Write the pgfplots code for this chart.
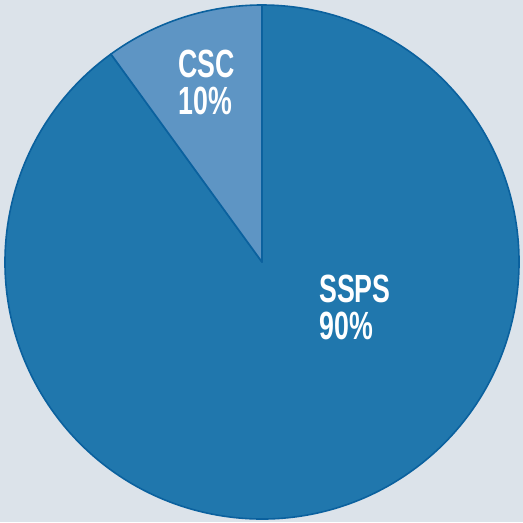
\documentclass[border=0pt]{standalone}
\usepackage{pgfplots}
\usepackage{pgfplotstable}
\usepackage{fontspec}
\pgfplotsset{compat=1.18}
\setmainfont{Liberation Sans}
\newfontfamily\labelfont[FakeStretch=0.68]{Liberation Sans}
\definecolor{bgcol}{HTML}{DCE3EA}
\definecolor{sspscol}{HTML}{2077AD}
\definecolor{csccol}{HTML}{5E95C4}
\definecolor{edgecol}{HTML}{0B619E}
\pgfplotstableread{
label value
CSC 10
SSPS 90
}\piedata
\begin{document}
\begin{tikzpicture}
\begin{axis}[
  width=392.25pt, height=391.5pt, scale only axis,
  xmin=0, xmax=523, ymin=0, ymax=522,
  axis line style={draw=none}, ticks=none,
  axis background/.style={fill=bgcol},
  clip=false,
]
\pgfplotstablegetelem{0}{value}\of\piedata \let\vcsc\pgfplotsretval
\pgfplotstablegetelem{1}{value}\of\piedata \let\vssps\pgfplotsretval
\pgfmathsetmacro{\aone}{90+3.6*\vcsc}
\pgfmathsetmacro{\atwo}{\aone+3.6*\vssps}
\fill[sspscol, draw=edgecol, line width=1.2pt, line join=round]
  (axis cs:262,260) -- ++(\aone:192.75pt) arc[start angle=\aone, end angle=\atwo, radius=192.75pt] -- cycle;
\fill[csccol, draw=edgecol, line width=1.2pt, line join=round]
  (axis cs:262,260) -- ++(90:192.75pt) arc[start angle=90, end angle=\aone, radius=192.75pt] -- cycle;
\node[anchor=base west, inner sep=0pt, text=white, align=left,
  font=\labelfont\bfseries\fontsize{29.5}{27.75}\selectfont] at (axis cs:178,408) {CSC\\10\%};
\node[anchor=base west, inner sep=0pt, text=white, align=left,
  font=\labelfont\bfseries\fontsize{29.5}{27.75}\selectfont] at (axis cs:319,183) {SSPS\\90\%};
\end{axis}
\pgfresetboundingbox
\path[use as bounding box] (current axis.south west) rectangle (current axis.north east);
\end{tikzpicture}
\end{document}
